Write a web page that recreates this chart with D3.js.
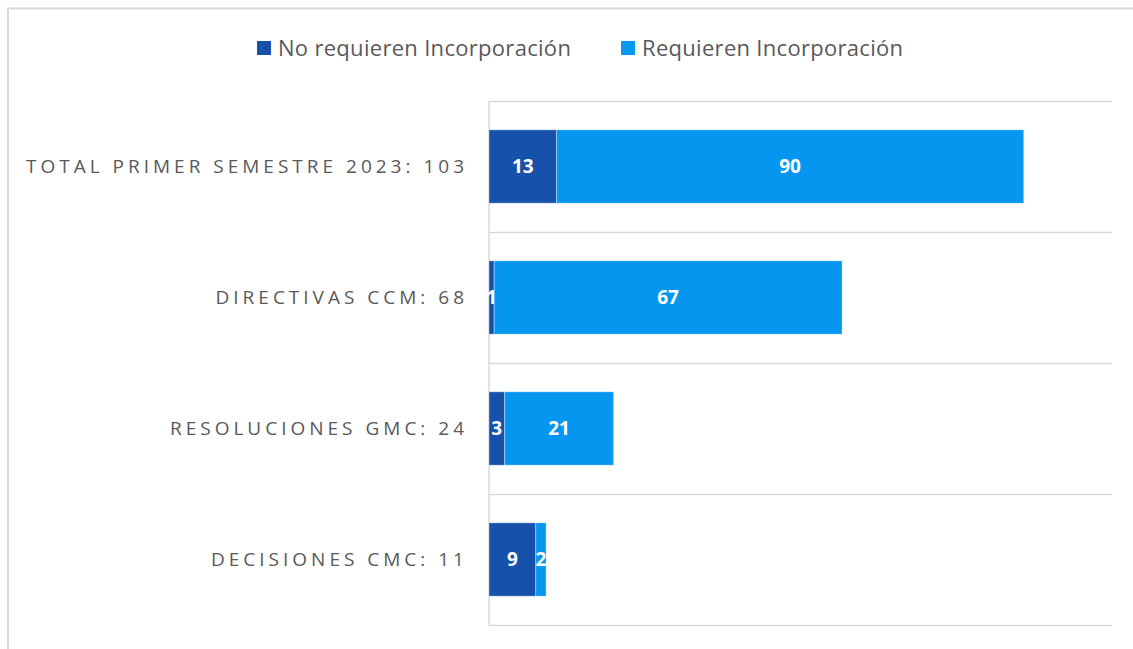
<!DOCTYPE html>
<html><head><meta charset="utf-8">
<script src="https://cdn.jsdelivr.net/npm/d3@7"></script>
<style>
html,body{margin:0;padding:0;background:#fff;}
text{font-family:"Open Sans",sans-serif;}
</style></head>
<body><svg id="c" width="1133" height="649"></svg>
<script>
const categories = ["TOTAL PRIMER SEMESTRE 2023: 103","DIRECTIVAS CCM: 68","RESOLUCIONES GMC: 24","DECISIONES CMC: 11"];
const noRequieren = [13, 1, 3, 9];
const requieren = [90, 67, 21, 2];
const seriesNames = ["No requieren Incorporación","Requieren Incorporación"];
const colors = ["#1652AC","#0596F0"];

const svg = d3.select("#c");
// frame
svg.append("path").attr("d","M8,649 V8.5 H1133").attr("fill","none").attr("stroke","#d9d9d9").attr("stroke-width",2);

const x = d3.scaleLinear().domain([0,120]).range([489,1112]);
const y = d3.scaleBand().domain(categories).range([101,625]).padding(0);

// gridlines at band boundaries
const bounds = categories.map(c=>y(c)).concat([y.range()[1]]);
svg.selectAll(".grid").data(bounds).enter().append("line")
  .attr("x1",489).attr("x2",1112).attr("y1",d=>Math.round(d)+0.5).attr("y2",d=>Math.round(d)+0.5)
  .attr("stroke","#d9d9d9").attr("stroke-width",1.5);
svg.append("line").attr("x1",489).attr("x2",489).attr("y1",101).attr("y2",625)
  .attr("stroke","#d9d9d9").attr("stroke-width",1.5);

const data = categories.map((c,i)=>({cat:c, a:noRequieren[i], b:requieren[i]}));
const stack = d3.stack().keys(["a","b"])(data);
const bh = y.bandwidth()*0.56;

stack.forEach((layer,li)=>{
  const g = svg.append("g");
  g.selectAll("rect").data(layer).enter().append("rect")
    .attr("x",d=>x(d[0])).attr("width",d=>x(d[1])-x(d[0]))
    .attr("y",d=>y(d.data.cat)+(y.bandwidth()-bh)/2).attr("height",bh)
    .attr("fill",colors[li]).attr("stroke","#fff").attr("stroke-opacity",0.35).attr("stroke-width",1);
  g.selectAll("text").data(layer).enter().append("text")
    .attr("x",d=>(x(d[0])+x(d[1]))/2).attr("y",d=>y(d.data.cat)+y.bandwidth()/2)
    .attr("dy","0.36em").attr("text-anchor","middle")
    .attr("fill","#fff").attr("font-weight","bold").attr("font-size",19)
    .text(d=>d[1]-d[0]);
});

// category labels
svg.selectAll(".cl").data(categories).enter().append("text")
  .attr("x",468).attr("y",d=>y(d)+y.bandwidth()/2).attr("dy","0.36em")
  .attr("text-anchor","end").attr("fill","#595959").attr("font-size",19)
  .attr("letter-spacing","4px").text(d=>d);

// legend
const lx = [257, 621];
seriesNames.forEach((s,i)=>{
  svg.append("rect").attr("x",lx[i]).attr("y",41).attr("width",14).attr("height",14).attr("fill",colors[i]);
  svg.append("text").attr("x",lx[i]+21).attr("y",48).attr("dy","0.36em")
    .attr("fill","#595959").attr("font-size",22).attr("letter-spacing","0.3px").text(s);
});
</script></body></html>
